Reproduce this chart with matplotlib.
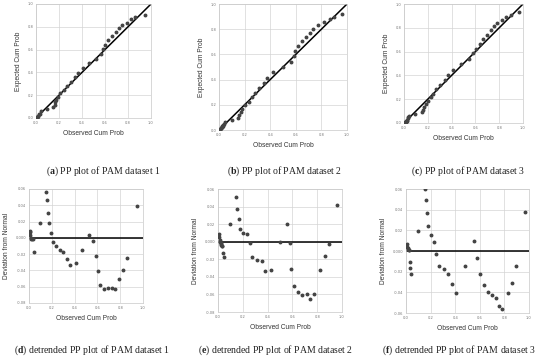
import numpy as np
import matplotlib.pyplot as plt

plt.rcParams['mathtext.fontset'] = 'custom'
plt.rcParams['mathtext.bf'] = 'Liberation Serif:bold'
plt.rcParams['mathtext.rm'] = 'Liberation Serif'

# PP plot values (observed cum prob, expected cum prob)
a_obs = [0.006, 0.009, 0.012, 0.015, 0.02, 0.03, 0.038, 0.044, 0.094, 0.149, 0.161, 0.167, 0.175, 0.19,
         0.21, 0.24, 0.269, 0.301, 0.336, 0.363, 0.409, 0.465, 0.523, 0.561, 0.585, 0.602, 0.626, 0.658,
         0.693, 0.725, 0.751, 0.787, 0.827, 0.86, 0.944]
a_exp = [0.001, 0.002, 0.009, 0.015, 0.021, 0.031, 0.039, 0.062, 0.076, 0.093, 0.114, 0.136, 0.157, 0.184,
         0.215, 0.249, 0.284, 0.319, 0.362, 0.396, 0.44, 0.48, 0.52, 0.564, 0.607, 0.643, 0.684, 0.721,
         0.754, 0.787, 0.814, 0.837, 0.866, 0.885, 0.905]
b_obs = [0.008, 0.011, 0.014, 0.019, 0.022, 0.024, 0.027, 0.03, 0.035, 0.038, 0.049, 0.1, 0.146, 0.154,
         0.168, 0.181, 0.205, 0.232, 0.257, 0.278, 0.314, 0.351, 0.378, 0.424, 0.5, 0.559, 0.584, 0.592,
         0.616, 0.646, 0.676, 0.714, 0.738, 0.773, 0.824, 0.865, 0.897, 0.962]
b_exp = [0.001, 0.006, 0.012, 0.019, 0.024, 0.027, 0.031, 0.035, 0.04, 0.051, 0.067, 0.08, 0.095, 0.116,
         0.142, 0.166, 0.195, 0.224, 0.258, 0.296, 0.335, 0.373, 0.411, 0.457, 0.5, 0.539, 0.585, 0.624,
         0.666, 0.704, 0.736, 0.773, 0.803, 0.833, 0.857, 0.882, 0.9, 0.92]
c_obs = [0.008, 0.011, 0.014, 0.016, 0.022, 0.027, 0.03, 0.032, 0.041, 0.095, 0.151, 0.159, 0.168, 0.181,
         0.2, 0.224, 0.243, 0.27, 0.305, 0.341, 0.373, 0.408, 0.478, 0.549, 0.578, 0.603, 0.635, 0.668,
         0.7, 0.732, 0.759, 0.784, 0.827, 0.859, 0.895, 0.968]
c_exp = [0.001, 0.007, 0.011, 0.014, 0.021, 0.026, 0.041, 0.049, 0.063, 0.076, 0.091, 0.11, 0.131, 0.157,
         0.184, 0.216, 0.246, 0.284, 0.323, 0.364, 0.405, 0.448, 0.492, 0.539, 0.585, 0.625, 0.668, 0.708,
         0.743, 0.778, 0.812, 0.84, 0.868, 0.89, 0.91, 0.93]

# detrended values (observed cum prob, deviation from normal)
d_obs = a_obs
d_dev = [0.009, 0.007, 0.003, 0.0, -0.001, -0.001, -0.001, -0.0176, 0.018, 0.056, 0.047, 0.031, 0.018,
         0.006, -0.0045, -0.0094, -0.0147, -0.0176, -0.0258, -0.033, -0.0307, -0.0147, 0.003, -0.0033,
         -0.0217, -0.041, -0.0577, -0.0626, -0.061, -0.0618, -0.0634, -0.0503, -0.0393, -0.0245, 0.0389]
e_obs = b_obs
e_dev = [0.0083, 0.0053, 0.0023, -0.0004, -0.0015, -0.003, -0.0038, -0.0046, -0.0053, -0.0129, -0.0175,
         0.0205, 0.0509, 0.0376, 0.0262, 0.0148, 0.0102, 0.0083, -0.0011, -0.0175, -0.0209, -0.0216,
         -0.0334, -0.0326, 0.0, 0.0205, -0.0011, -0.0315, -0.0501, -0.0577, -0.0603, -0.0592, -0.0649,
         -0.06, -0.0326, -0.0167, -0.003, 0.0421]
f_obs = c_obs
f_dev = [0.0071, 0.0039, 0.0026, 0.0019, 0.0013, 0.0006, -0.0107, -0.0165, -0.022, 0.0194, 0.0596, 0.0493,
         0.037, 0.024, 0.0156, 0.0084, -0.0029, -0.0143, -0.0175, -0.0227, -0.0321, -0.0402, -0.0143,
         0.0097, -0.0065, -0.022, -0.0331, -0.0399, -0.0425, -0.0457, -0.0532, -0.0557, -0.0408, -0.0308,
         -0.0146, 0.0379]

x_ticks = [0.0, 0.2, 0.4, 0.6, 0.8, 1.0]
dt_ticks = [0.06, 0.04, 0.02, 0.0, -0.02, -0.04, -0.06, -0.08]
dt_labels = ['0.06', '0.04', '0.02', '0.000', '-0.02', '-0.04', '-0.06', '-0.08']

captions_top = [('a', 'PP plot of PAM dataset 1'), ('b', 'PP plot of PAM dataset 2'),
                ('c', 'PP plot of PAM dataset 3')]
captions_bot = [('d', 'detrended PP plot of PAM dataset 1'), ('e', 'detrended PP plot of PAM dataset 2'),
                ('f', 'detrended PP plot of PAM dataset 3')]

W, H = 550, 363
fig = plt.figure(figsize=(W / 100, H / 100), dpi=100)
fig.patch.set_facecolor('white')


def box(l, t, r, b):
    return [l / W, 1 - b / H, (r - l) / W, (b - t) / H]


def style(ax, ylab):
    ax.grid(True, color='#d4d4d4', lw=0.5)
    ax.set_axisbelow(True)
    for s in ax.spines.values():
        s.set_color('#c8c8c8')
        s.set_linewidth(0.5)
    ax.tick_params(length=0, labelsize=2.6, labelcolor='#777777', pad=2)
    ax.set_xlim(0, 1)
    ax.set_xticks(x_ticks)
    ax.set_xticklabels([f'{v:.1f}' for v in x_ticks])
    ax.set_xlabel('Observed Cum Prob', fontsize=4.8, color='#333333', family='Liberation Sans', labelpad=4)
    ax.set_ylabel(ylab, fontsize=4.8, color='#333333', family='Liberation Sans', labelpad=4)


pp_boxes = [(36, 4, 151, 118), (219, 4, 347, 130), (404, 4, 523, 123)]
pp_data = [(a_obs, a_exp), (b_obs, b_exp), (c_obs, c_exp)]
for bx, (ox, ex) in zip(pp_boxes, pp_data):
    ax = fig.add_axes(box(*bx))
    ax.plot([0, 1], [0, 1], color='black', lw=1.1, zorder=2)
    ax.plot(ox, ex, 'o', ms=1.8, color='#444444', mec='#444444', zorder=3)
    style(ax, 'Expected Cum Prob')
    ax.set_ylim(0, 1)
    ax.set_yticks(x_ticks)
    ax.set_yticklabels([f'{v:.1f}' for v in x_ticks])

dt_boxes = [(29, 189, 143, 303), (218, 189, 342, 312), (406, 189, 529, 313)]
dt_data = [(d_obs, d_dev, -0.08), (e_obs, e_dev, -0.08), (f_obs, f_dev, -0.06)]
for bx, (ox, dv, ymin) in zip(dt_boxes, dt_data):
    ax = fig.add_axes(box(*bx))
    ax.axhline(0, color='black', lw=1.1, zorder=2)
    ax.plot(ox, dv, 'o', ms=1.8, color='#444444', mec='#444444', zorder=3)
    style(ax, 'Deviation from Normal')
    ax.set_ylim(ymin, 0.06)
    ticks = [t for t in dt_ticks if t >= ymin - 1e-9]
    ax.set_yticks(ticks)
    ax.set_yticklabels(dt_labels[:len(ticks)])

top_x = [103, 285, 468]
bot_x = [92, 275, 459]
for cx, (let, txt) in zip(top_x, captions_top):
    fig.text(cx / W, 1 - 171 / H, '(' + f'$\\mathbf{{{let}}}$' + ') ' + txt, ha='center', va='center',
             fontsize=7, family='Liberation Serif', color='#222222')
for cx, (let, txt) in zip(bot_x, captions_bot):
    fig.text(cx / W, 1 - 350 / H, '(' + f'$\\mathbf{{{let}}}$' + ') ' + txt, ha='center', va='center',
             fontsize=7, family='Liberation Serif', color='#222222')

fig.savefig('out.png', dpi=100, facecolor='white')
